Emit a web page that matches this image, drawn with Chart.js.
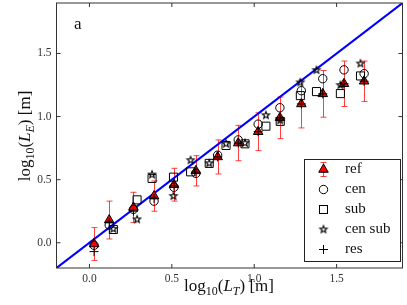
<!DOCTYPE html>
<html>
<head>
<meta charset="utf-8">
<script src="https://cdn.jsdelivr.net/npm/chart.js@4.4.0/dist/chart.umd.min.js"></script>
<style>
  html, body { margin: 0; padding: 0; background: #fff; }
  #wrap { width: 407px; height: 305px; }
</style>
</head>
<body>
<div id="wrap"><canvas id="c" width="407" height="305"></canvas></div>
<script>
const xTicks = [0.0, 0.5, 1.0, 1.5];
const yTicks = [0.0, 0.5, 1.0, 1.5];
const xRange = [-0.2, 1.9];
const yRange = [-0.2, 1.9];

// ref, cen and res share the same L_T
const refX   = [0.028, 0.120, 0.267, 0.392, 0.513, 0.646, 0.778, 0.903, 1.024, 1.156, 1.286, 1.416, 1.545, 1.667];
const refY   = [-0.01, 0.18, 0.28, 0.37, 0.46, 0.57, 0.68, 0.79, 0.88, 0.99, 1.10, 1.18, 1.26, 1.28];
const refErr = [0.13, 0.15, 0.12, 0.12, 0.13, 0.12, 0.135, 0.14, 0.15, 0.165, 0.19, 0.185, 0.18, 0.16];
const cenY   = [-0.02, 0.14, 0.265, 0.33, 0.44, 0.55, 0.694, 0.815, 0.94, 1.07, 1.205, 1.30, 1.37, 1.34];
const resY   = [-0.07, 0.16, 0.25, 0.35, 0.45, 0.56, 0.68, 0.79, 0.88, 0.99, 1.10, 1.18, 1.26, 1.28];

// sub and cen sub share the same L_T
const subX    = [0.145, 0.289, 0.380, 0.510, 0.614, 0.727, 0.829, 0.944, 1.071, 1.158, 1.280, 1.378, 1.523, 1.645];
const subY    = [0.105, 0.34, 0.51, 0.52, 0.562, 0.629, 0.771, 0.784, 0.924, 0.962, 1.166, 1.198, 1.182, 1.322];
const cenSubY = [0.11, 0.185, 0.54, 0.37, 0.654, 0.63, 0.785, 0.79, 1.01, 0.97, 1.27, 1.368, 1.249, 1.42];

const SERIF = "'Liberation Serif', 'DejaVu Serif', serif";
const ERR_COLOR = "rgba(255,0,0,0.75)";

const pts = (xs, ys) => xs.map((x, i) => ({ x, y: ys[i] }));

function makeStar(rOut, rIn) {
  const s = 12;
  const c = document.createElement("canvas");
  c.width = s; c.height = s;
  const g = c.getContext("2d");
  g.beginPath();
  for (let k = 0; k < 10; k++) {
    const r = k % 2 ? rIn : rOut;
    const a = -Math.PI / 2 + k * Math.PI / 5;
    g.lineTo(s / 2 + r * Math.cos(a), s / 2 + r * Math.sin(a));
  }
  g.closePath();
  g.strokeStyle = "#000";
  g.lineWidth = 1.1;
  g.stroke();
  return c;
}
const STAR = makeStar(3.8, 1.6);

// draws log10(L_sub) [m] centred on the current origin
function drawAxisLabel(ctx, sub) {
  const parts = [
    { t: "log", f: "17px " + SERIF, dy: 0 },
    { t: "10", f: "12px " + SERIF, dy: 4 },
    { t: "(", f: "17px " + SERIF, dy: 0 },
    { t: "L", f: "italic 17px " + SERIF, dy: 0 },
    { t: sub, f: "italic 12px " + SERIF, dy: 4 },
    { t: ")", f: "17px " + SERIF, dy: 0 },
    { t: " [m]", f: "17px " + SERIF, dy: 0 },
  ];
  let total = 0;
  parts.forEach(p => { ctx.font = p.f; p.w = ctx.measureText(p.t).width; total += p.w; });
  let x = -total / 2;
  ctx.fillStyle = "#111";
  ctx.textBaseline = "alphabetic";
  ctx.textAlign = "left";
  parts.forEach(p => { ctx.font = p.f; ctx.fillText(p.t, x, p.dy); x += p.w; });
}

const errorBars = {
  id: "errorBars",
  beforeDatasetsDraw(chart) {
    const { ctx, scales: { x, y } } = chart;
    ctx.save();
    ctx.strokeStyle = ERR_COLOR;
    ctx.lineWidth = 1;
    refX.forEach((v, i) => {
      const px = Math.round(x.getPixelForValue(v)) + 0.5;
      const top = y.getPixelForValue(refY[i] + refErr[i]);
      const bot = y.getPixelForValue(refY[i] - refErr[i]);
      ctx.beginPath();
      ctx.moveTo(px, top); ctx.lineTo(px, bot);
      ctx.moveTo(px - 3, top); ctx.lineTo(px + 3, top);
      ctx.moveTo(px - 3, bot); ctx.lineTo(px + 3, bot);
      ctx.stroke();
    });
    ctx.restore();
  }
};

const frame = {
  id: "frame",
  afterDraw(chart) {
    const { ctx, chartArea: a, scales: { x, y } } = chart;
    ctx.save();
    ctx.strokeStyle = "#333";
    ctx.lineWidth = 1;
    ctx.strokeRect(a.left, a.top, a.right - a.left, a.bottom - a.top);
    ctx.beginPath();
    xTicks.forEach(v => {
      const px = x.getPixelForValue(v);
      ctx.moveTo(px, a.bottom); ctx.lineTo(px, a.bottom - 4);
      ctx.moveTo(px, a.top); ctx.lineTo(px, a.top + 4);
    });
    yTicks.forEach(v => {
      const py = y.getPixelForValue(v);
      ctx.moveTo(a.left, py); ctx.lineTo(a.left + 4, py);
      ctx.moveTo(a.right, py); ctx.lineTo(a.right - 4, py);
    });
    ctx.stroke();

    // panel letter
    ctx.fillStyle = "#111";
    ctx.font = "17px " + SERIF;
    ctx.textBaseline = "alphabetic";
    ctx.fillText("a", 74, 29);

    // axis titles
    ctx.save();
    ctx.translate(229, 291);
    drawAxisLabel(ctx, "T");
    ctx.restore();
    ctx.save();
    ctx.translate(30, 136);
    ctx.rotate(-Math.PI / 2);
    drawAxisLabel(ctx, "E");
    ctx.restore();

    // legend
    const L = { x: 304.5, y: 159.5, w: 96, h: 102 };
    ctx.fillStyle = "#fff";
    ctx.fillRect(L.x, L.y, L.w, L.h);
    ctx.strokeStyle = "#222";
    ctx.strokeRect(L.x, L.y, L.w, L.h);
    const mx = 323.5, tx = 345;
    const rows = [169.5, 189.5, 209.5, 229.5, 249.5];
    const names = ["ref", "cen", "sub", "cen sub", "res"];
    ctx.lineWidth = 1;
    // ref: error bar + triangle
    let cy = rows[0];
    ctx.strokeStyle = ERR_COLOR;
    ctx.beginPath();
    ctx.moveTo(mx, cy - 7); ctx.lineTo(mx, cy + 7);
    ctx.moveTo(mx - 3, cy - 7); ctx.lineTo(mx + 3, cy - 7);
    ctx.moveTo(mx - 3, cy + 7); ctx.lineTo(mx + 3, cy + 7);
    ctx.stroke();
    const r = 5.5;
    ctx.beginPath();
    ctx.moveTo(mx, cy - r);
    ctx.lineTo(mx + r * 0.866, cy + r * 0.5);
    ctx.lineTo(mx - r * 0.866, cy + r * 0.5);
    ctx.closePath();
    ctx.fillStyle = "#ff0000"; ctx.fill();
    ctx.strokeStyle = "#000"; ctx.stroke();
    // cen
    ctx.beginPath(); ctx.arc(mx, rows[1], 4.2, 0, Math.PI * 2); ctx.stroke();
    // sub
    ctx.strokeRect(mx - 4, rows[2] - 4, 8, 8);
    // cen sub
    ctx.drawImage(STAR, mx - 6, rows[3] - 6);
    // res
    ctx.beginPath();
    ctx.moveTo(mx - 4.5, rows[4]); ctx.lineTo(mx + 4.5, rows[4]);
    ctx.moveTo(mx, rows[4] - 4.5); ctx.lineTo(mx, rows[4] + 4.5);
    ctx.stroke();
    ctx.fillStyle = "#111";
    ctx.font = "15px " + SERIF;
    ctx.textBaseline = "middle";
    names.forEach((n, i) => ctx.fillText(n, tx, rows[i]));
    ctx.restore();
  }
};

const tickFont = { family: SERIF, size: 11.5 };

new Chart(document.getElementById("c"), {
  type: "scatter",
  data: {
    datasets: [
      { label: "res", data: pts(refX, resY), order: 1,
        pointStyle: "cross", pointRadius: 4.5, borderColor: "#000", borderWidth: 1 },
      { label: "cen sub", data: pts(subX, cenSubY), order: 2,
        pointStyle: STAR, pointRadius: 6 },
      { label: "sub", data: pts(subX, subY), order: 3,
        pointStyle: "rect", pointRadius: 5.7, borderColor: "#000", borderWidth: 1,
        backgroundColor: "rgba(0,0,0,0)" },
      { label: "cen", data: pts(refX, cenY), order: 4,
        pointStyle: "circle", pointRadius: 4.2, borderColor: "#000", borderWidth: 1,
        backgroundColor: "rgba(0,0,0,0)" },
      { label: "ref", data: pts(refX, refY), order: 5,
        pointStyle: "triangle", pointRadius: 5.5, borderColor: "#000", borderWidth: 1,
        backgroundColor: "#ff0000" },
      { label: "y=x", data: pts(xRange, yRange), order: 6, showLine: true,
        borderColor: "#0000ff", borderWidth: 2, pointRadius: 0 },
    ]
  },
  options: {
    responsive: false,
    animation: false,
    devicePixelRatio: 1,
    layout: { autoPadding: false, padding: { top: 3, right: 4.5, left: 0, bottom: 0 } },
    plugins: { legend: { display: false }, tooltip: { enabled: false } },
    scales: {
      x: {
        min: xRange[0], max: xRange[1],
        afterBuildTicks: s => { s.ticks = xTicks.map(v => ({ value: v })); },
        afterFit: s => { s.height = 37; s.paddingLeft = 0; s.paddingRight = 0; },
        grid: { display: false, drawTicks: false, tickLength: 0 }, border: { display: false },
        ticks: { font: tickFont, color: "#333", padding: 4, maxRotation: 0,
                 callback: v => v.toFixed(1) }
      },
      y: {
        min: yRange[0], max: yRange[1],
        afterBuildTicks: s => { s.ticks = yTicks.map(v => ({ value: v })); },
        afterFit: s => { s.width = 56.5; s.paddingTop = 0; s.paddingBottom = 0; },
        grid: { display: false, drawTicks: false, tickLength: 0 }, border: { display: false },
        ticks: { font: tickFont, color: "#333", padding: 5,
                 callback: v => v.toFixed(1) }
      }
    }
  },
  plugins: [errorBars, frame]
});
</script>
</body>
</html>
